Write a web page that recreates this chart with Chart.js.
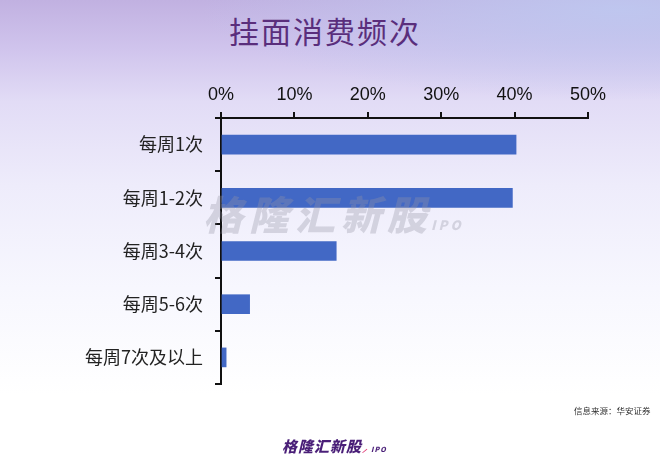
<!DOCTYPE html>
<html>
<head>
<meta charset="utf-8">
<script src="https://cdn.jsdelivr.net/npm/chart.js@4"></script>
<style>
  html, body { margin: 0; padding: 0; }
  body {
    width: 660px; height: 464px; overflow: hidden; position: relative;
    background:
      radial-gradient(ellipse 420px 90px at 620px 10px, rgba(190,200,240,0.9), rgba(190,200,240,0) 100%),
      linear-gradient(to bottom, #c1b1e1 0%, #cfc3ec 10%, #e2dcf6 22%, #eeecfb 40%, #f7f7fe 62%, #ffffff 85%);
  }
  #title {
    position: absolute; left: 0; width: 650px; top: 8px; text-align: center;
    font-family: "Noto Sans CJK SC", sans-serif; font-size: 30px; color: #5a2e7c;
    letter-spacing: 2px;
  }
  #wrap { position: absolute; left: 0; top: 0; width: 660px; height: 464px; }
  .mark { position: absolute; font-family: "Noto Sans CJK SC", sans-serif; font-weight: 900; font-style: italic; white-space: nowrap; }
  #wm { left: 203px; top: 184px; font-size: 40px; color: rgba(150,150,165,0.33); letter-spacing: 6px; }
  #wm span { font-size: 13px; letter-spacing: 3px; margin-left: -2px; }
  #logo { left: 282px; top: 435px; font-size: 15px; color: #4a1f78; letter-spacing: 1px; }
  #logo span { font-size: 7px; margin-left: 3px; }
  #logo i { color: #e0407a; font-size: 10px; }
  #source {
    position: absolute; left: 574px; top: 404px;
    font-family: "Noto Sans CJK SC", sans-serif; font-size: 8.5px; color: #333;
  }
</style>
</head>
<body>
<div id="title">挂面消费频次</div>
<div id="wrap"><canvas id="barChart" width="660" height="464"></canvas></div>
<div class="mark" id="wm">格隆汇新股<span>IPO</span></div>
<div id="source">信息来源：华安证券</div>
<div class="mark" id="logo">格隆汇新股<i>⸝</i><span>IPO</span></div>
<script>
// 挂面消费频次 - horizontal bars
const categories = ['每周1次', '每周1-2次', '每周3-4次', '每周5-6次', '每周7次及以上'];
const shares = [40.2, 39.7, 15.7, 3.9, 0.7];
const xTickLabels = ['0%', '10%', '20%', '30%', '40%', '50%'];

const ctx = document.getElementById('barChart').getContext('2d');
new Chart(ctx, {
    type: 'bar',
    data: {
        labels: categories,
        datasets: [{
            data: shares,
            backgroundColor: '#4268c5',
            borderWidth: 0,
            barThickness: 19
        }]
    },
    options: {
        indexAxis: 'y',
        responsive: false,
        animation: false,
        layout: { padding: { left: 0, right: 72, top: 0, bottom: 80 } },
        plugins: {
            legend: { display: false },
            tooltip: { enabled: false }
        },
        scales: {
            x: {
                position: 'top',
                min: 0,
                max: 50,
                afterFit: scale => { scale.height = 118; },
                border: { display: true, color: '#111', width: 2 },
                grid: { drawOnChartArea: false, drawTicks: true, tickLength: 6, color: '#111', lineWidth: 2 },
                ticks: {
                    stepSize: 10,
                    padding: 6,
                    color: '#111',
                    font: { family: 'Liberation Sans', size: 18 },
                    callback: (v, i) => xTickLabels[i]
                }
            },
            y: {
                afterFit: scale => { scale.width = 221; },
                border: { display: true, color: '#111', width: 2 },
                grid: { drawOnChartArea: false, drawTicks: true, tickLength: 6, color: '#111', lineWidth: 2 },
                ticks: {
                    padding: 12,
                    color: '#222',
                    font: { family: 'Noto Sans CJK SC', size: 18 }
                }
            }
        }
    }
});
</script>
</body>
</html>
